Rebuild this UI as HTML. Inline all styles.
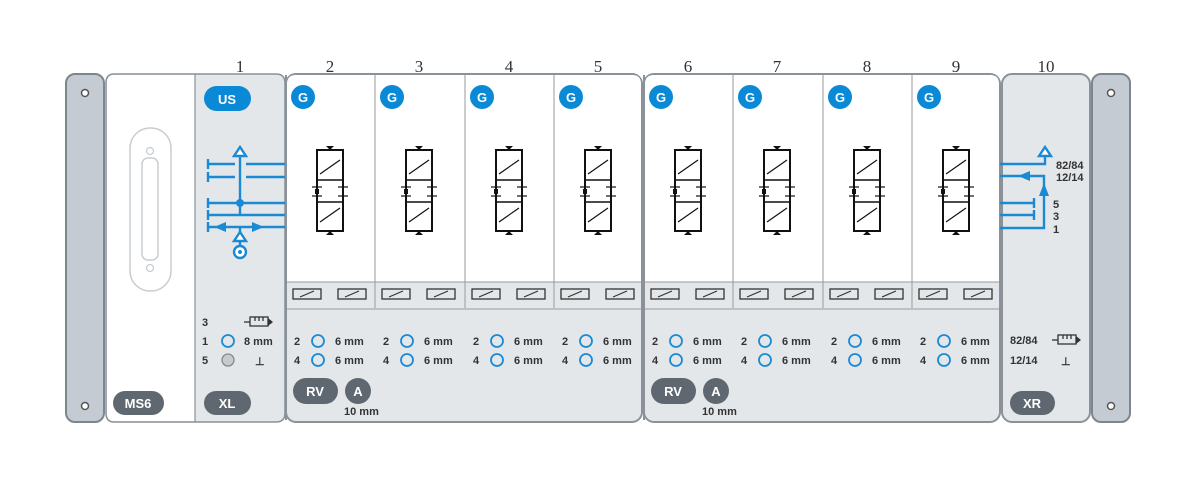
<!DOCTYPE html>
<html><head><meta charset="utf-8"><style>
html,body{margin:0;padding:0;background:#fff;}
svg{display:block;}
text{font-family:"Liberation Sans",sans-serif;}
.n{font-family:"Liberation Serif",serif;font-size:17px;fill:#333;text-anchor:middle;}
.s{font-size:11px;fill:#333;font-weight:bold;}
.pill{fill:#5f6770;}
.pt{fill:#fff;font-weight:bold;font-size:13px;text-anchor:middle;}
.bl{stroke:#1a8ad4;stroke-width:2.4;fill:none;}
</style></head><body>
<svg width="1200" height="491" viewBox="0 0 1200 491" xmlns="http://www.w3.org/2000/svg">
<defs>
<g id="valve">
 <rect x="-13" y="-40" width="26" height="81" fill="#fff" stroke="#111" stroke-width="2"/>
 <line x1="-13" y1="-10" x2="13" y2="-10" stroke="#111" stroke-width="1.5"/>
 <line x1="-13" y1="12" x2="13" y2="12" stroke="#111" stroke-width="1.5"/>
 <line x1="-10" y1="-16" x2="10" y2="-30" stroke="#111" stroke-width="1.2"/>
 <line x1="-10" y1="32" x2="10" y2="18" stroke="#111" stroke-width="1.2"/>
 <line x1="-18" y1="-3" x2="-8" y2="-3" stroke="#111" stroke-width="1.2"/>
 <line x1="8" y1="-3" x2="18" y2="-3" stroke="#111" stroke-width="1.2"/>
 <line x1="8" y1="6" x2="18" y2="6" stroke="#111" stroke-width="1.2"/>
 <line x1="-18" y1="6" x2="-8" y2="6" stroke="#111" stroke-width="1.2"/>
 <rect x="-15" y="-1" width="4" height="5" fill="#111"/>
 <path d="M-4,-44 L4,-44 L0,-40Z" fill="#111"/>
 <path d="M-4,45 L4,45 L0,41Z" fill="#111"/>
</g>
<g id="coil">
 <rect x="0" y="0" width="28" height="10" fill="none" stroke="#333" stroke-width="1.3"/>
 <line x1="7" y1="8" x2="21" y2="2" stroke="#333" stroke-width="1.2"/>
</g>
<g id="col">
 <line x1="0" y1="75" x2="0" y2="308" stroke="#999" stroke-width="1"/>
 <circle cx="17" cy="97" r="12" fill="#0a8ad6"/>
 <text x="17" y="102" class="pt" font-size="12">G</text>
 <use href="#valve" x="44" y="190"/>
 <use href="#coil" x="7" y="289"/>
 <use href="#coil" x="52" y="289"/>
 <text x="8" y="345" class="s">2</text>
 <circle cx="32" cy="341" r="6" fill="none" stroke="#1a8ad4" stroke-width="1.8"/>
 <text x="49" y="345" class="s">6 mm</text>
 <text x="8" y="364" class="s">4</text>
 <circle cx="32" cy="360" r="6" fill="none" stroke="#1a8ad4" stroke-width="1.8"/>
 <text x="49" y="364" class="s">6 mm</text>
</g>
</defs>

<!-- numbers -->
<text x="240" y="72" class="n">1</text>
<text x="330" y="72" class="n">2</text>
<text x="419" y="72" class="n">3</text>
<text x="509" y="72" class="n">4</text>
<text x="598" y="72" class="n">5</text>
<text x="688" y="72" class="n">6</text>
<text x="777" y="72" class="n">7</text>
<text x="867" y="72" class="n">8</text>
<text x="956" y="72" class="n">9</text>
<text x="1046" y="72" class="n">10</text>

<!-- end plates -->
<rect x="66" y="74" width="38" height="348" rx="9" fill="#c4cbd2" stroke="#7d858d" stroke-width="2"/>
<circle cx="85" cy="93" r="3.5" fill="#fff" stroke="#555" stroke-width="1.5"/>
<circle cx="85" cy="406" r="3.5" fill="#fff" stroke="#555" stroke-width="1.5"/>
<rect x="1092" y="74" width="38" height="348" rx="9" fill="#c4cbd2" stroke="#7d858d" stroke-width="2"/>
<circle cx="1111" cy="93" r="3.5" fill="#fff" stroke="#555" stroke-width="1.5"/>
<circle cx="1111" cy="406" r="3.5" fill="#fff" stroke="#555" stroke-width="1.5"/>

<!-- left module -->
<path d="M114,74 H276 Q285,74 285,83 V413 Q285,422 276,422 H114 Q106,422 106,413 V83 Q106,74 114,74Z" fill="#e4e7ea" stroke="#8a9199" stroke-width="1.5"/>
<path d="M114,75 H195 V421 H114 Q107,421 107,413 V83 Q107,75 114,75Z" fill="#fff"/>
<line x1="195" y1="74" x2="195" y2="422" stroke="#8a9199" stroke-width="1.2"/>
<rect x="130" y="128" width="41" height="163" rx="20" fill="none" stroke="#c8cdd2" stroke-width="1.5"/>
<rect x="142" y="158" width="16" height="102" rx="6" fill="none" stroke="#c8cdd2" stroke-width="1.5"/>
<circle cx="150" cy="151" r="3.5" fill="none" stroke="#c8cdd2" stroke-width="1.3"/>
<circle cx="150" cy="268" r="3.5" fill="none" stroke="#c8cdd2" stroke-width="1.3"/>
<rect x="113" y="391" width="51" height="24" rx="12" class="pill"/>
<text x="138" y="408" class="pt">MS6</text>
<rect x="204" y="86" width="47" height="25" rx="12.5" fill="#0a8ad6"/>
<text x="227" y="104" class="pt">US</text>
<rect x="204" y="391" width="47" height="24" rx="12" class="pill"/>
<text x="227" y="408" class="pt">XL</text>
<!-- XL pneumatic -->
<g class="bl">
 <line x1="208" y1="164" x2="235" y2="164"/><line x1="246" y1="164" x2="285" y2="164"/>
 <line x1="208" y1="177" x2="235" y2="177"/><line x1="246" y1="177" x2="285" y2="177"/>
 <line x1="208" y1="203" x2="285" y2="203"/>
 <line x1="208" y1="215" x2="285" y2="215"/>
 <line x1="208" y1="227" x2="285" y2="227"/>
 <line x1="208" y1="159" x2="208" y2="169"/><line x1="208" y1="172" x2="208" y2="182"/>
 <line x1="208" y1="198" x2="208" y2="208"/><line x1="208" y1="210" x2="208" y2="220"/><line x1="208" y1="222" x2="208" y2="232"/>
 <line x1="240" y1="155" x2="240" y2="215"/>
 <path d="M240,147 L246,156 L234,156Z" fill="#fff"/>
 <line x1="240" y1="227" x2="240" y2="246"/>
 <path d="M240,232 L246,241 L234,241Z" fill="#fff"/>
 <circle cx="240" cy="252" r="6" fill="#fff"/>
</g>
<circle cx="240" cy="203" r="4" fill="#1a8ad4"/>
<circle cx="240" cy="252" r="2" fill="#1a8ad4"/>
<path d="M214,227 L226,222 L226,232Z" fill="#1a8ad4"/>
<path d="M264,227 L252,222 L252,232Z" fill="#1a8ad4"/>
<text x="202" y="326" class="s">3</text>
<g stroke="#333" stroke-width="1.3" fill="none"><line x1="244" y1="322" x2="250" y2="322"/><rect x="250" y="317" width="18" height="9"/><line x1="255" y1="317" x2="255" y2="321"/><line x1="259" y1="317" x2="259" y2="321"/><line x1="263" y1="317" x2="263" y2="321"/></g>
<path d="M268,318 L273,322 L268,326Z" fill="#333"/>
<text x="202" y="345" class="s">1</text>
<circle cx="228" cy="341" r="6" fill="none" stroke="#1a8ad4" stroke-width="1.8"/>
<text x="244" y="345" class="s">8 mm</text>
<text x="202" y="364" class="s">5</text>
<circle cx="228" cy="360" r="6" fill="#c8cbce" stroke="#888" stroke-width="1.3"/>
<text x="255" y="365" class="s" font-weight="normal">⊥</text>

<!-- group 1 -->
<rect x="286" y="74" width="356" height="348" rx="10" fill="#e4e7ea" stroke="#8a9199" stroke-width="2"/>
<path d="M296,75 H632 Q641,75 641,84 V282 H287 V84 Q287,75 296,75Z" fill="#fff"/>
<line x1="287" y1="282" x2="641" y2="282" stroke="#999"/>
<line x1="287" y1="309" x2="641" y2="309" stroke="#999"/>
<use href="#col" x="286"/><use href="#col" x="375"/><use href="#col" x="465"/><use href="#col" x="554"/>
<line x1="286" y1="75" x2="286" y2="420" stroke="#8a9199" stroke-width="2"/>
<rect x="293" y="378" width="45" height="26" rx="13" class="pill"/>
<text x="315" y="396" class="pt">RV</text>
<circle cx="358" cy="391" r="13" class="pill"/>
<text x="358" y="396" class="pt">A</text>
<text x="344" y="415" class="s" font-weight="normal">10 mm</text>

<!-- group 2 -->
<rect x="644" y="74" width="356" height="348" rx="10" fill="#e4e7ea" stroke="#8a9199" stroke-width="2"/>
<path d="M654,75 H990 Q999,75 999,84 V282 H645 V84 Q645,75 654,75Z" fill="#fff"/>
<line x1="645" y1="282" x2="999" y2="282" stroke="#999"/>
<line x1="645" y1="309" x2="999" y2="309" stroke="#999"/>
<use href="#col" x="644"/><use href="#col" x="733"/><use href="#col" x="823"/><use href="#col" x="912"/>
<line x1="644" y1="75" x2="644" y2="420" stroke="#8a9199" stroke-width="2"/>
<rect x="651" y="378" width="45" height="26" rx="13" class="pill"/>
<text x="673" y="396" class="pt">RV</text>
<circle cx="716" cy="391" r="13" class="pill"/>
<text x="716" y="396" class="pt">A</text>
<text x="702" y="415" class="s" font-weight="normal">10 mm</text>

<!-- right module XR -->
<rect x="1002" y="74" width="88" height="348" rx="10" fill="#e4e7ea" stroke="#8a9199" stroke-width="2"/>
<g class="bl">
 <polyline points="1000,164 1045,164 1045,157"/>
 <path d="M1045,147 L1051,156 L1039,156Z" fill="#fff"/>
 <polyline points="1000,176 1044,176 1044,228 1000,228"/>
 <line x1="1000" y1="203" x2="1034" y2="203"/><line x1="1034" y1="198" x2="1034" y2="208"/>
 <line x1="1000" y1="215" x2="1034" y2="215"/><line x1="1034" y1="210" x2="1034" y2="220"/>
</g>
<path d="M1018,176 L1030,171 L1030,181Z" fill="#1a8ad4"/>
<path d="M1044,183 L1049,196 L1039,196Z" fill="#1a8ad4"/>
<text x="1056" y="169" class="s" font-size="10">82/84</text>
<text x="1056" y="181" class="s" font-size="10">12/14</text>
<text x="1053" y="208" class="s" font-size="10">5</text>
<text x="1053" y="220" class="s" font-size="10">3</text>
<text x="1053" y="233" class="s" font-size="10">1</text>
<text x="1010" y="344" class="s" font-size="10">82/84</text>
<g stroke="#333" stroke-width="1.3" fill="none"><line x1="1052" y1="340" x2="1058" y2="340"/><rect x="1058" y="335" width="18" height="9"/><line x1="1063" y1="335" x2="1063" y2="339"/><line x1="1067" y1="335" x2="1067" y2="339"/><line x1="1071" y1="335" x2="1071" y2="339"/></g>
<path d="M1076,336 L1081,340 L1076,344Z" fill="#333"/>
<text x="1010" y="364" class="s" font-size="10">12/14</text>
<text x="1061" y="365" class="s" font-weight="normal">⊥</text>
<rect x="1010" y="391" width="45" height="24" rx="12" class="pill"/>
<text x="1032" y="408" class="pt">XR</text>
</svg>
</body></html>
